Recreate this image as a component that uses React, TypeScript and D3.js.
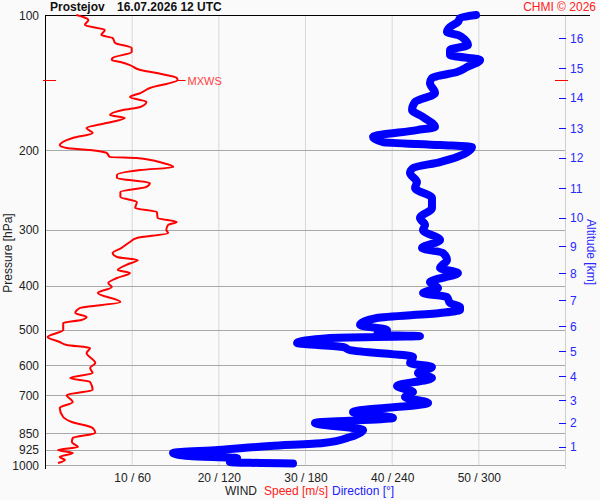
import React, { useRef, useEffect } from 'react';
import * as d3 from 'd3';

// sounding levels [hPa] and wind speed [m/s]
const speedLevels = [
  100, 101, 102.6, 105.3, 108, 110.8, 112.5, 115.4, 118.4, 120.8, 124.6, 125.9, 127.2, 129.2,
  132.5, 134.6, 138, 139.5, 145.3, 149.1, 152.2, 156.1, 160.1, 162.6, 166.8, 169.4, 173.8,
  178.3, 182.9, 187.6, 194.5, 197.5, 199.5, 202.6, 206.8, 207.9, 213.3, 217.7, 221.1, 226.8,
  230.3, 236.3, 241.1, 247.4, 253.8, 260.4, 268.5, 274.1, 282.6, 288.4, 292.9, 300.5, 305.1,
  313, 319.5, 329.5, 338, 345, 350.3, 359, 368.7, 374.4, 384.1, 394.1, 402.2, 414.8, 434.3,
  447.9, 459.5, 469, 476.2, 483.6, 501.2, 519.5, 532.9, 541.2, 549.5, 563.8, 593.4, 608.8,
  624.6, 640.8, 654.1, 681.3, 699, 724.4, 747, 782.2, 802.4, 827.5, 848.9, 871, 889, 912,
  926.1, 940.4, 959.9, 974.8, 989.8,
];
const speedValues = [
  3.6, 4.4, 5.0, 4.6, 6.9, 6.5, 7.8, 8.1, 10.0, 10.0, 7.8, 7.7, 8.7, 9.8,
  11.0, 12.9, 15.2, 15.3, 12.1, 11.0, 9.8, 11.7, 11.0, 9.0, 7.5, 9.2, 7.1,
  4.8, 5.5, 3.2, 1.7, 2.5, 5.2, 7.1, 7.5, 10.6, 13.6, 14.8, 11.0, 8.3,
  8.3, 12.1, 11.7, 8.7, 8.7, 10.6, 10.4, 12.9, 13.0, 15.2, 14.2, 14.0, 14.2,
  10.6, 9.8, 8.8, 7.8, 8.3, 10.7, 9.4, 8.4, 9.8, 8.3, 7.3, 7.7, 6.1, 8.7,
  4.0, 3.5, 4.8, 4.2, 2.1, 2.1, 0.3, 1.7, 2.5, 5.2, 4.8, 5.8, 5.2,
  5.5, 2.9, 5.2, 5.5, 2.5, 3.2, 1.7, 2.1, 3.1, 5.5, 5.8, 3.2, 3.1, 3.8,
  1.5, 3.2, 1.7, 2.3, 1.5,
];

// wind direction [deg]
const dirLevels = [
  100, 101.6, 103.6, 106.3, 109.1, 110.8, 113.6, 116.6, 119.6, 122.7, 125.9, 130.5, 133.9,
  138, 141.6, 149.1, 156.1, 162.6, 168.5, 177.4, 180.2, 186.7, 191.6, 194.5, 196.5, 206.8,
  212.2, 218.8, 224.4, 235.1, 242.4, 255.1, 268.5, 282.6, 292.9, 300.5, 316.2, 329.5, 338,
  350.3, 365, 374.4, 392.1, 404.3, 414.8, 423.4, 436.5, 445.6, 452.5, 459.5, 471.4, 488.6,
  501.2, 514.2, 516.9, 522.2, 535.7, 546.8, 555.3, 575.4, 593.4, 605.7, 624.6, 640.8, 667.5,
  688.3, 706.2, 728.2, 762.4, 786.2, 806.5, 836, 866.6, 893.6, 907.4, 926.1, 940.4, 955,
  964.9, 984.8, 992.4,
];
const dirValues = [
  298.4, 287.3, 285.9, 280.4, 278.3, 285.9, 290.8, 292.8, 280.4, 280.4, 301.2, 292.2, 285.2,
  267.9, 266.5, 270.0, 256.2, 254.1, 261.7, 270.0, 257.5, 227.1, 234.0, 273.5, 295.6, 285.2,
  273.5, 254.8, 252.7, 257.5, 256.2, 267.9, 267.9, 259.6, 263.1, 261.7, 273.5, 261.0, 275.5,
  278.3, 273.5, 285.9, 266.5, 272.1, 261.7, 278.3, 280.4, 287.3, 287.3, 273.5, 229.8, 218.1,
  236.8, 229.8, 259.6, 197.3, 174.5, 206.3, 211.2, 254.8, 252.7, 267.9, 258.2, 267.9, 243.7,
  254.8, 249.2, 265.2, 213.2, 240.9, 186.9, 220.2, 211.2, 192.5, 155.8, 119.8, 88.6, 100,
  133, 128, 171.7,
];

const pressureTicks = [100, 200, 300, 400, 500, 600, 700, 850, 925, 1000];
const speedTicks = [10, 20, 30, 40, 50];
const dirTicks = [60, 120, 180, 240, 300];
const altitudeKm = [1, 2, 3, 4, 5, 6, 7, 8, 9, 10, 11, 12, 13, 14, 15, 16];
const altitudePressure = [
  912, 806.5, 717.1, 634.3, 558.1, 491.1, 429.9, 374.4, 326.1, 282.2, 242.7, 207.6, 178.6,
  152.9, 131.2, 112.7,
];
const maxWindLevel = 139.5;

const FONT = '"Liberation Sans", Arial, sans-serif';

export default function App() {
  const svgRef = useRef<SVGSVGElement>(null);

  useEffect(() => {
    if (!svgRef.current) return;
    const svg = d3.select(svgRef.current);
    svg.selectAll('*').remove();

    const left = 45, right = 565, top = 15, bottom = 465;

    const y = d3.scaleLog().domain([100, 1000]).range([top, bottom]);
    const xs = d3.scaleLinear().domain([0, 60]).range([left, right]);
    const xd = d3.scaleLinear().domain([0, 360]).range([left, right]);

    svg.append('rect').attr('width', 600).attr('height', 500).attr('fill', '#fafafa');

    // vertical grid
    svg.append('g').selectAll('line').data(speedTicks).join('line')
      .attr('x1', d => xs(d) + 0.5).attr('x2', d => xs(d) + 0.5)
      .attr('y1', top).attr('y2', bottom)
      .attr('stroke', '#d8d8d8');

    // horizontal grid
    svg.append('g').selectAll('line').data(pressureTicks.slice(1)).join('line')
      .attr('x1', left).attr('x2', right)
      .attr('y1', d => Math.round(y(d)) + 0.5).attr('y2', d => Math.round(y(d)) + 0.5)
      .attr('stroke', '#a8a8a8');

    // right axis line
    svg.append('line')
      .attr('x1', right + 0.5).attr('x2', right + 0.5).attr('y1', top).attr('y2', 469)
      .attr('stroke', '#d0d0d0');

    // frame
    svg.append('line')
      .attr('x1', left + 0.5).attr('x2', left + 0.5).attr('y1', top).attr('y2', 469)
      .attr('stroke', '#000');
    svg.append('line')
      .attr('x1', left).attr('x2', 590).attr('y1', top + 0.5).attr('y2', top + 0.5)
      .attr('stroke', '#000');

    // pressure labels
    svg.append('g').selectAll('text').data(pressureTicks).join('text')
      .attr('x', 39).attr('y', d => y(d) + 4.5)
      .attr('text-anchor', 'end')
      .attr('font-family', FONT).attr('font-size', 12).attr('fill', '#222')
      .text(d => d);

    svg.append('text')
      .attr('transform', 'translate(12,253) rotate(-90)')
      .attr('text-anchor', 'middle')
      .attr('font-family', FONT).attr('font-size', 12).attr('fill', '#222')
      .text('Pressure [hPa]');

    // bottom labels
    svg.append('g').selectAll('text').data(speedTicks).join('text')
      .attr('x', (d, i) => xs(d) + 1).attr('y', 482)
      .attr('text-anchor', 'middle')
      .attr('font-family', FONT).attr('font-size', 12).attr('fill', '#222')
      .text((d, i) => `${d} / ${dirTicks[i]}`);

    const foot = svg.append('text').attr('x', 225).attr('y', 495)
      .attr('font-family', FONT).attr('font-size', 12);
    foot.append('tspan').attr('fill', '#222').text('WIND');
    foot.append('tspan').attr('x', 264).attr('fill', '#ff2020').text('Speed [m/s]');
    foot.append('tspan').attr('x', 332).attr('fill', '#2020ff').text('Direction [°]');

    // altitude axis
    const alt = svg.append('g');
    alt.selectAll('line').data(altitudePressure).join('line')
      .attr('x1', 559).attr('x2', 566)
      .attr('y1', d => Math.round(y(d)) + 0.5).attr('y2', d => Math.round(y(d)) + 0.5)
      .attr('stroke', '#1010ff');
    alt.selectAll('text').data(altitudePressure).join('text')
      .attr('x', 570).attr('y', d => y(d) + 4.5)
      .attr('font-family', FONT).attr('font-size', 12).attr('fill', '#2828ff')
      .text((d, i) => altitudeKm[i]);
    svg.append('text')
      .attr('transform', 'translate(587,252) rotate(90)')
      .attr('text-anchor', 'middle')
      .attr('font-family', FONT).attr('font-size', 12).attr('fill', '#2828ff')
      .text('Altitude [km]');

    // direction profile
    const dirLine = d3.line<number>()
      .x((d, i) => xd(dirValues[i]))
      .y(d => y(d))
      .curve(d3.curveMonotoneY);
    svg.append('path')
      .attr('d', dirLine(dirLevels))
      .attr('fill', 'none')
      .attr('stroke', '#0000ff')
      .attr('stroke-width', 8)
      .attr('stroke-linecap', 'round')
      .attr('stroke-linejoin', 'round');

    // speed profile
    const speedLine = d3.line<number>()
      .x((d, i) => xs(speedValues[i]))
      .y(d => y(d))
      .curve(d3.curveMonotoneY);
    svg.append('path')
      .attr('d', speedLine(speedLevels))
      .attr('fill', 'none')
      .attr('stroke', '#ff0000')
      .attr('stroke-width', 2)
      .attr('stroke-linejoin', 'round');

    // max wind marker
    const ym = Math.round(y(maxWindLevel)) + 0.5;
    const maxIdx = speedLevels.indexOf(maxWindLevel);
    const xm = xs(speedValues[maxIdx]);
    svg.append('line').attr('x1', 43).attr('x2', 56).attr('y1', ym).attr('y2', ym).attr('stroke', '#ff0000');
    svg.append('line').attr('x1', 555).attr('x2', 568).attr('y1', ym).attr('y2', ym).attr('stroke', '#ff0000');
    svg.append('line').attr('x1', xm).attr('x2', xm + 8).attr('y1', ym).attr('y2', ym).attr('stroke', '#ff0000');
    svg.append('text')
      .attr('x', xm + 10).attr('y', ym + 4)
      .attr('font-family', FONT).attr('font-size', 11).attr('fill', '#ff4040')
      .text('MXWS');

    // title
    const title = svg.append('text').attr('x', 50).attr('y', 11)
      .attr('font-family', FONT).attr('font-size', 12).attr('font-weight', 'bold').attr('fill', '#111');
    title.append('tspan').text('Prostejov');
    title.append('tspan').attr('x', 117).text('16.07.2026 12 UTC');

    svg.append('text')
      .attr('x', 596).attr('y', 11)
      .attr('text-anchor', 'end')
      .attr('font-family', FONT).attr('font-size', 12).attr('fill', '#ff2020')
      .text('CHMI © 2026');

    return () => {
      svg.selectAll('*').remove();
    };
  }, []);

  return (
    <svg
      ref={svgRef}
      width={600}
      height={500}
      style={{ position: 'absolute', left: 0, top: 0 }}
    />
  );
}
